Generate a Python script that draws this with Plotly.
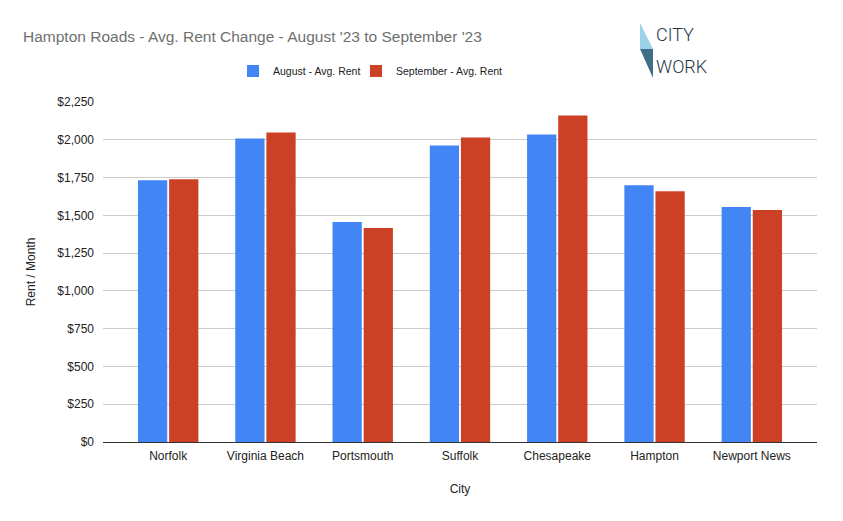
import plotly.graph_objects as go

# Dados
cidades = ['Norfolk', 'Virginia Beach', 'Portsmouth', 'Suffolk', 'Chesapeake', 'Hampton', 'Newport News']
aluguel_agosto = [1732, 2009, 1456, 1962, 2035, 1699, 1555]
aluguel_setembro = [1739, 2048, 1416, 2015, 2161, 1659, 1535]
ticks_y = [0, 250, 500, 750, 1000, 1250, 1500, 1750, 2000, 2250]
ticks_y_txt = [f'${v:,}' for v in ticks_y]

FONTE = 'Liberation Sans, Arial, sans-serif'
# a página tem 8px de margem no body -> figura um pouco menor
W, H = 835, 513
L, R, T, B = 95, 26, 94, 79
# área do gráfico na tela (pixels da imagem)
SX0, SX1, SY0, SY1 = 103, 817, 102, 442


def px(x, y):
    # pixel da tela -> coordenadas paper
    return (x - SX0) / (SX1 - SX0), (SY1 - y) / (SY1 - SY0)


fig = go.Figure()
fig.add_trace(go.Bar(
    x=cidades, y=aluguel_agosto, name='August - Avg. Rent',
    marker=dict(color='#4285f4', line=dict(width=0)),
    legend='legend', showlegend=True,
))
fig.add_trace(go.Bar(
    x=cidades, y=aluguel_setembro, name='September - Avg. Rent',
    marker=dict(color='#cc4125', line=dict(width=0)),
    legend='legend2', showlegend=True,
))

# Logo "CITY WORK"
x1, y1 = px(640, 23)
x2, y2 = px(640, 49)
x3, y3 = px(653, 49)
x4, y4 = px(653, 78)
fig.add_shape(type='path', xref='paper', yref='paper',
              path=f'M {x1} {y1} L {x2} {y2} L {x3} {y3} Z',
              fillcolor='#9dd3ea', line=dict(width=0))
fig.add_shape(type='path', xref='paper', yref='paper',
              path=f'M {x2} {y2} L {x3} {y3} L {x4} {y4} Z',
              fillcolor='#3f6f86', line=dict(width=0))
for txt, sy in [('CITY', 34), ('WORK', 67)]:
    cx, cy = px(654, sy)
    fig.add_annotation(x=cx, y=cy, xref='paper', yref='paper', text=txt,
                       showarrow=False, xanchor='left', yanchor='middle',
                       font=dict(family='Roboto, sans-serif', size=18, weight=300,
                                 color='#1d3444'))

leg = dict(orientation='h', xanchor='left', y=px(0, 71)[1], yanchor='middle',
           font=dict(size=10.5, color='#222222'), itemclick=False, bgcolor='rgba(0,0,0,0)')

fig.update_layout(
    width=W, height=H,
    margin=dict(l=L, r=R, t=T, b=B),
    paper_bgcolor='white', plot_bgcolor='white',
    font=dict(family=FONTE, size=12, color='#222222'),
    title=dict(text="Hampton Roads - Avg. Rent Change - August '23 to September '23",
               x=15 / W, xanchor='left', y=1 - 29 / H, yanchor='middle',
               font=dict(size=15.5, color='#6f6f6f')),
    showlegend=True,
    legend=dict(leg, x=px(233, 0)[0]),
    legend2=dict(leg, x=px(356, 0)[0]),
    barmode='group', bargap=0.36, bargroupgap=0.06,
)

fig.update_xaxes(
    range=[-0.67, 6.67], showgrid=False, showline=True, linecolor='#333333', linewidth=1,
    ticks='', ticklabelstandoff=3,
    title=dict(text='City', standoff=22, font=dict(size=12)),
)
fig.update_yaxes(
    range=[0, 2250], tickvals=ticks_y, ticktext=ticks_y_txt,
    showgrid=True, gridcolor='#cccccc', gridwidth=1, zeroline=False, showline=False,
    ticks='', ticklabelstandoff=8,
    title=dict(text='Rent / Month', standoff=19, font=dict(size=12)),
)

fig.write_html('out.html')
